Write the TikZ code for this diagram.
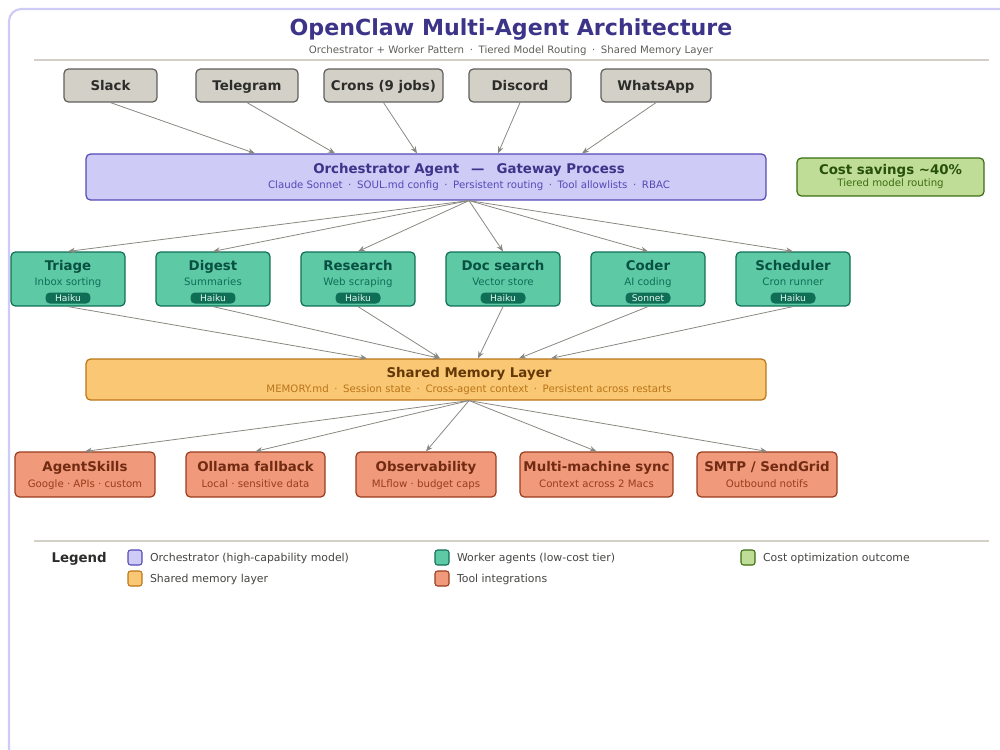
\documentclass[tikz,border=0pt]{standalone}
\usepackage{fontspec}
\setmainfont{DejaVu Sans}
\usetikzlibrary{arrows.meta,positioning,calc}

\definecolor{srcfill}{HTML}{D3D1C7}
\definecolor{srcline}{HTML}{5F5E5A}
\definecolor{srctext}{HTML}{2C2C2A}
\definecolor{orchfill}{HTML}{CECBF6}
\definecolor{orchline}{HTML}{534AB7}
\definecolor{orchtext}{HTML}{3C3489}
\definecolor{wrkfill}{HTML}{5DCAA5}
\definecolor{wrkline}{HTML}{0F6E56}
\definecolor{wrktext}{HTML}{085041}
\definecolor{memfill}{HTML}{FAC775}
\definecolor{memline}{HTML}{BA7517}
\definecolor{memtext}{HTML}{633806}
\definecolor{toolfill}{HTML}{F0997B}
\definecolor{toolline}{HTML}{993C1D}
\definecolor{tooltext}{HTML}{712B13}
\definecolor{costfill}{HTML}{C0DD97}
\definecolor{costline}{HTML}{3B6D11}
\definecolor{costtext}{HTML}{27500A}
\definecolor{framecol}{HTML}{CECBF6}
\definecolor{rulecol}{HTML}{D3D1C7}
\definecolor{arrcol}{HTML}{888780}
\definecolor{badgetext}{HTML}{E1F5EE}
\definecolor{legtextcol}{HTML}{444441}

\newcommand{\dsep}{\hspace{0.55em}·\hspace{0.55em}}

\begin{document}
\begin{tikzpicture}[x=0.02cm, y=-0.02cm, line width=0.6pt,
  >={Stealth[length=4pt,width=3.2pt]},
  box/.style={rounded corners=2.5pt, line width=0.7pt, inner sep=0pt},
  srcbox/.style={box, fill=srcfill, draw=srcline, minimum height=0.66cm, text=srctext, text height=5.5pt, text depth=0pt, font=\fontsize{7.6}{9}\selectfont\bfseries},
  wrkbox/.style={box, fill=wrkfill, draw=wrkline, minimum width=2.28cm, minimum height=1.08cm},
  toolbox/.style={box, fill=toolfill, draw=toolline, minimum height=0.9cm},
  hdr/.style={inner sep=0pt, text height=5.5pt, text depth=0pt, font=\fontsize{7.6}{9}\selectfont\bfseries},
  sub/.style={inner sep=0pt, text height=4.2pt, text depth=0pt, font=\fontsize{5.8}{7}\selectfont},
  badge/.style={fill=wrkline, rounded corners=2.5pt, minimum width=0.9cm, minimum height=0.22cm, inner sep=0pt, text height=3.8pt, text depth=0pt, text=badgetext, font=\fontsize{5.2}{6}\selectfont},
  swatch/.style={rounded corners=1.5pt, minimum width=0.28cm, minimum height=0.3cm, inner sep=0pt, line width=0.6pt},
  legtext/.style={inner sep=0pt, anchor=west, text height=4.5pt, text depth=0pt, text=legtextcol, font=\fontsize{6.2}{7.5}\selectfont},
  arr/.style={->, draw=arrcol, line width=0.45pt}]

  \useasboundingbox (0,0) rectangle (1000,750);
  \draw[framecol, line width=1.2pt, rounded corners=7pt] (9,770) -- (9,9) -- (1020,9);

  % heading
  \node[inner sep=0pt, text height=9.2pt, text depth=0pt, font=\fontsize{12.6}{15}\selectfont\bfseries, text=orchtext] (title) at (511,27) {OpenClaw Multi-Agent Architecture};
  \node[sub, text=srcline] (subtitle) at (511,50) {Orchestrator + Worker Pattern\dsep Tiered Model Routing\dsep Shared Memory Layer};
  \draw[rulecol] (34,60) -- (989,60);

  % channels
  \node[srcbox, minimum width=1.86cm] (slack) at (110.5,85.5) {Slack};
  \node[srcbox, minimum width=2.04cm] (telegram) at (247,85.5) {Telegram};
  \node[srcbox, minimum width=2.38cm] (crons) at (383.5,85.5) {Crons (9 jobs)};
  \node[srcbox, minimum width=2.04cm] (discord) at (520,85.5) {Discord};
  \node[srcbox, minimum width=2.2cm] (whatsapp) at (656,85.5) {WhatsApp};

  % orchestrator
  \node[box, fill=orchfill, draw=orchline, minimum width=13.6cm, minimum height=0.92cm] (orch) at (426,177) {};
  \node[hdr, text=orchtext] (orchtitle) at (469,169) {Orchestrator Agent\hspace{0.9em}—\hspace{0.9em}Gateway Process};
  \node[sub, text=orchline] (orchsub) at (469,185) {Claude Sonnet\dsep SOUL.md config\dsep Persistent routing\dsep Tool allowlists\dsep RBAC};
  \coordinate (orchout) at ($(orch.south)+(43,0)$);

  \node[box, fill=costfill, draw=costline, minimum width=3.74cm, minimum height=0.76cm] (cost) at (890.5,177) {};
  \node[hdr, text=costtext] (costtitle) at (890.5,169.5) {Cost savings \textasciitilde40\%};
  \node[sub, text=costline] (costsub) at (890.5,183) {Tiered model routing};

  \draw[arr] (slack.south) -- ($(orch.north)+(-171,0)$);
  \draw[arr] (telegram.south) -- ($(orch.north)+(-91,0)$);
  \draw[arr] (crons.south) -- ($(orch.north)+(-9,0)$);
  \draw[arr] (discord.south) -- ($(orch.north)+(72,0)$);
  \draw[arr] (whatsapp.south) -- ($(orch.north)+(156,0)$);

  % workers
  \node[wrkbox] (triage) at (68,279) {};
  \node[hdr, text=wrktext] (triagetitle) at (68,266) {Triage};
  \node[sub, text=wrkline] (triagesub) at (68,282) {Inbox sorting};
  \node[badge] (triagebadge) at (68,298) {Haiku};

  \node[wrkbox] (digest) at (213,279) {};
  \node[hdr, text=wrktext] (digesttitle) at (213,266) {Digest};
  \node[sub, text=wrkline] (digestsub) at (213,282) {Summaries};
  \node[badge] (digestbadge) at (213,298) {Haiku};

  \node[wrkbox] (research) at (358,279) {};
  \node[hdr, text=wrktext] (researchtitle) at (358,266) {Research};
  \node[sub, text=wrkline] (researchsub) at (358,282) {Web scraping};
  \node[badge] (researchbadge) at (358,298) {Haiku};

  \node[wrkbox] (docsearch) at (503,279) {};
  \node[hdr, text=wrktext] (docsearchtitle) at (503,266) {Doc search};
  \node[sub, text=wrkline] (docsearchsub) at (503,282) {Vector store};
  \node[badge] (docsearchbadge) at (503,298) {Haiku};

  \node[wrkbox] (coder) at (648,279) {};
  \node[hdr, text=wrktext] (codertitle) at (648,266) {Coder};
  \node[sub, text=wrkline] (codersub) at (648,282) {AI coding};
  \node[badge] (coderbadge) at (648,298) {Sonnet};

  \node[wrkbox] (scheduler) at (793,279) {};
  \node[hdr, text=wrktext] (schedulertitle) at (793,266) {Scheduler};
  \node[sub, text=wrkline] (schedulersub) at (793,282) {Cron runner};
  \node[badge] (schedulerbadge) at (793,298) {Haiku};

  \draw[arr] (orchout) -- (triage.north);
  \draw[arr] (orchout) -- (digest.north);
  \draw[arr] (orchout) -- (research.north);
  \draw[arr] (orchout) -- (docsearch.north);
  \draw[arr] (orchout) -- (coder.north);
  \draw[arr] (orchout) -- (scheduler.north);

  % memory
  \node[box, fill=memfill, draw=memline, minimum width=13.6cm, minimum height=0.82cm] (mem) at (426,379.5) {};
  \node[hdr, text=memtext] (memtitle) at (469,373) {Shared Memory Layer};
  \node[sub, text=memline] (memsub) at (469,389) {MEMORY.md\dsep Session state\dsep Cross-agent context\dsep Persistent across restarts};
  \coordinate (memout) at ($(mem.south)+(43,0)$);

  \draw[arr] (triage.south) -- ($(mem.north)+(-59,0)$);
  \draw[arr] (digest.south) -- ($(mem.north)+(14,0)$);
  \draw[arr] (research.south) -- ($(mem.north)+(14,0)$);
  \draw[arr] (docsearch.south) -- ($(mem.north)+(52,0)$);
  \draw[arr] (coder.south) -- ($(mem.north)+(93,0)$);
  \draw[arr] (scheduler.south) -- ($(mem.north)+(125,0)$);

  % tools
  \node[toolbox, minimum width=2.8cm] (skills) at (85,474.5) {};
  \node[hdr, text=tooltext] (skillstitle) at (85,467) {AgentSkills};
  \node[sub, text=toolline] (skillssub) at (85,484) {Google · APIs · custom};

  \node[toolbox, minimum width=2.78cm] (ollama) at (255.5,474.5) {};
  \node[hdr, text=tooltext] (ollamatitle) at (255.5,467) {Ollama fallback};
  \node[sub, text=toolline] (ollamasub) at (255.5,484) {Local · sensitive data};

  \node[toolbox, minimum width=2.8cm] (observ) at (426,474.5) {};
  \node[hdr, text=tooltext] (observtitle) at (426,467) {Observability};
  \node[sub, text=toolline] (observsub) at (426,484) {MLflow · budget caps};

  \node[toolbox, minimum width=3.06cm] (sync) at (596.5,474.5) {};
  \node[hdr, text=tooltext] (synctitle) at (596.5,467) {Multi-machine sync};
  \node[sub, text=toolline] (syncsub) at (596.5,484) {Context across 2 Macs};

  \node[toolbox, minimum width=2.8cm] (smtp) at (767,474.5) {};
  \node[hdr, text=tooltext] (smtptitle) at (767,467) {SMTP / SendGrid};
  \node[sub, text=toolline] (smtpsub) at (767,484) {Outbound notifs};

  \draw[arr] (memout) -- (skills.north);
  \draw[arr] (memout) -- (ollama.north);
  \draw[arr] (memout) -- (observ.north);
  \draw[arr] (memout) -- (sync.north);
  \draw[arr] (memout) -- (smtp.north);

  % legend
  \draw[rulecol] (34,541) -- (989,541);
  \node[hdr, text=srctext, anchor=west] (legend) at (51,557.5) {Legend};
  \node[swatch, fill=orchfill, draw=orchline] (keyorch) at (135,557.5) {};
  \node[legtext, right=0.14cm of keyorch] (keyorchtext) {Orchestrator (high-capability model)};
  \node[swatch, fill=memfill, draw=memline] (keymem) at (135,578.5) {};
  \node[legtext, right=0.14cm of keymem] (keymemtext) {Shared memory layer};
  \node[swatch, fill=wrkfill, draw=wrkline] (keywrk) at (442,557.5) {};
  \node[legtext, right=0.14cm of keywrk] (keywrktext) {Worker agents (low-cost tier)};
  \node[swatch, fill=toolfill, draw=toolline] (keytool) at (442,578.5) {};
  \node[legtext, right=0.14cm of keytool] (keytooltext) {Tool integrations};
  \node[swatch, fill=costfill, draw=costline] (keycost) at (748,557.5) {};
  \node[legtext, right=0.14cm of keycost] (keycosttext) {Cost optimization outcome};
\end{tikzpicture}
\end{document}
